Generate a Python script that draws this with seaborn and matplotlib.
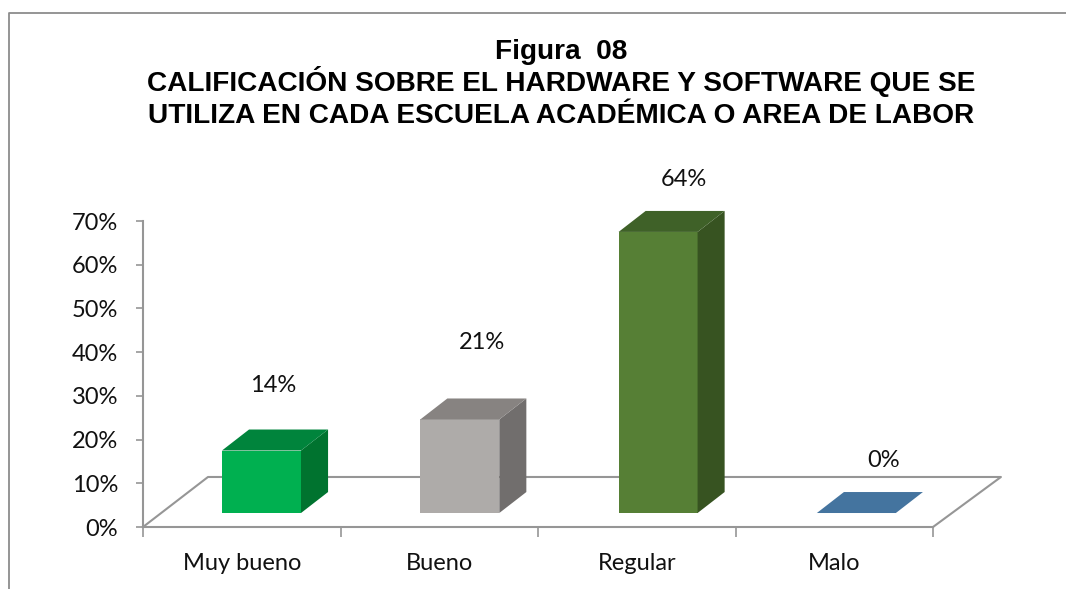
import matplotlib
matplotlib.use("Agg")
import matplotlib.pyplot as plt
from matplotlib.lines import Line2D
from matplotlib.patches import Polygon
import seaborn as sns
import pandas as pd

categories = ["Muy bueno", "Bueno", "Regular", "Malo"]
values = [14.3, 21.4, 64.3, 0.0]
value_labels = ["14%", "21%", "64%", "0%"]
y_ticks = [0, 10, 20, 30, 40, 50, 60, 70]
title_lines = ["Figura  08",
               "CALIFICACIÓN SOBRE EL HARDWARE Y SOFTWARE QUE SE",
               "UTILIZA EN CADA ESCUELA ACADÉMICA O AREA DE LABOR"]

front = ["#00B050", "#AEABA9", "#567F35", "#44749F"]
top = ["#00843C", "#878381", "#3F6128", "#44749F"]
side = ["#00732F", "#716E6D", "#375321", "#44749F"]
AXC = "#969696"
W, H = 1066, 589
FS = 17

sns.set_theme(style="white")
plt.rcParams["font.family"] = ["Lato", "DejaVu Sans"]
fig = plt.figure(figsize=(W / 100, H / 100), dpi=100, facecolor="white")
ax = fig.add_axes([143 / W, (H - 527) / H, 790 / W, 306 / H])

base = 3.2      # bar floor level in data units
dx3, dy3 = 0.137, 4.8
fx_l, fx_r, fy = 0.329, 0.344, 11.44
shift = 0.1

df = pd.DataFrame({"cat": categories, "val": values})
sns.barplot(data=df, x="cat", y="val", hue="cat", palette=front, legend=False, saturation=1,
            width=0.4, bottom=base, linewidth=0, ax=ax, zorder=3)

ax.set_xlim(-0.5, 3.5)
ax.set_ylim(0, 70)

# floor of the 3-D box
ax.add_line(Line2D([-0.5, -0.5 + fx_l, 3.5 + fx_r, 3.5], [0, fy, fy, 0], color=AXC, lw=1.5,
                   clip_on=False, zorder=1))

label_dx = [11.5, 22, 25.5, 27]
label_dy = [65, 77, 52, 53]
for i, patch in enumerate(ax.patches[:len(values)]):
    patch.set_x(patch.get_x() + shift + 0.004 * i)
    x0, x1 = patch.get_x(), patch.get_x() + patch.get_width()
    y0, y1 = base, base + values[i]
    ax.add_patch(Polygon([(x1, y0), (x1 + dx3, y0 + dy3), (x1 + dx3, y1 + dy3), (x1, y1)],
                         fc=side[i], ec="none", zorder=3, clip_on=False))
    ax.add_patch(Polygon([(x0, y1), (x0 + dx3, y1 + dy3), (x1 + dx3, y1 + dy3), (x1, y1)],
                         fc=top[i], ec="none", zorder=3, clip_on=False))
    ax.annotate(value_labels[i], xy=((x0 + x1) / 2, y1), xycoords="data",
                xytext=(label_dx[i], label_dy[i]), textcoords="offset pixels",
                ha="center", va="center", fontsize=FS, color="#111111",
                annotation_clip=False, zorder=5)

sns.despine(ax=ax, top=True, right=True)
for s in ("left", "bottom"):
    ax.spines[s].set_color(AXC)
    ax.spines[s].set_linewidth(1.5)

ax.set_xlabel("")
ax.set_ylabel("")
ax.set_yticks(y_ticks, [f"{v}%" for v in y_ticks])
ax.set_xticks(range(len(categories)), categories)
ax.set_xticks([i - 0.5 for i in range(len(categories) + 1)], minor=True)
ax.tick_params(axis="y", which="major", length=5, width=1.2, color=AXC, left=True,
               labelsize=FS, labelcolor="#111111", pad=13)
ax.tick_params(axis="x", which="major", length=0, labelsize=FS, labelcolor="#111111", pad=19)
ax.tick_params(axis="x", which="minor", length=7, width=1.2, color=AXC, bottom=True)

fig.add_artist(Line2D([8.5 / W, 8.5 / W, 1], [0, (H - 12.5) / H, (H - 12.5) / H],
                      color="#8C8C8C", lw=1.3))
for line, ypx in zip(title_lines, [59, 91, 123]):
    fig.text(561 / W, (H - ypx) / H, line, ha="center", va="baseline", fontsize=20.2,
             fontweight="bold", family="Liberation Sans", color="black")

fig.savefig("out.png", dpi=100, facecolor="white")
